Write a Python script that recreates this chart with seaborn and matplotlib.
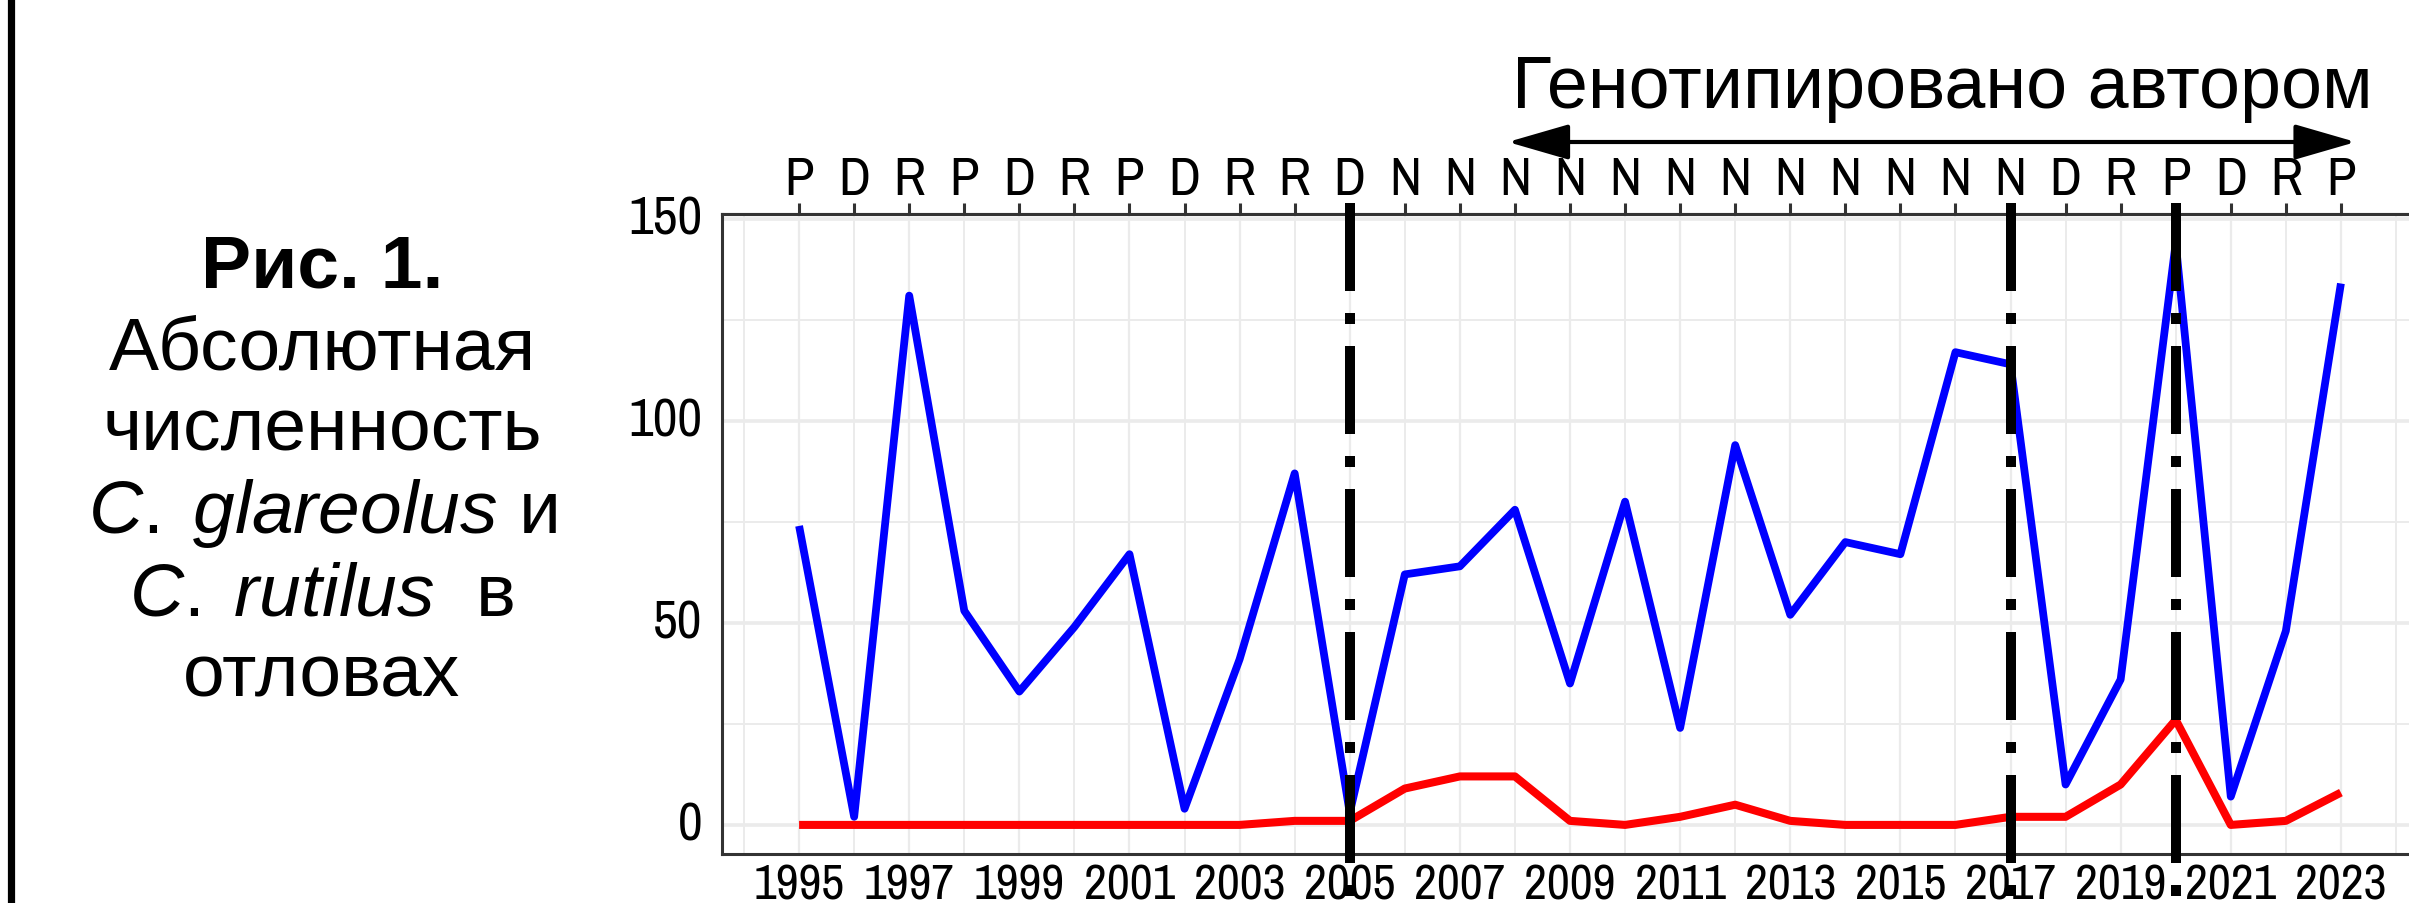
import seaborn as sns
import matplotlib.pyplot as plt
import pandas as pd
from matplotlib.transforms import ScaledTranslation

# data
years = list(range(1995, 2024))
glareolus = [74, 2, 131, 53, 33, 49, 67, 4, 41, 87, 3, 62, 64, 78, 35, 80, 24, 94,
             52, 70, 67, 117, 114, 10, 36, 144, 7, 48, 134]
rutilus = [0, 0, 0, 0, 0, 0, 0, 0, 0, 1, 1, 9, 12, 12, 1, 0, 2, 5, 1, 0, 0, 0, 2,
           2, 10, 26, 0, 1, 8]
phase = list('PDRPDRPDRRDNNNNNNNNNNNNDRPDRP')
break_years = [2005, 2017, 2020]
y_major = [0, 50, 100, 150]
y_minor = [25, 75, 125]
genotyped_span = (2007.87, 2023.27)
title = 'Генотипировано автором'
caption = ['Рис. 1.', 'Абсолютная', 'численность',
           r'$\mathit{C.\;glareolus}$ и', r'$\mathit{C.\;rutilus}$  в', 'отловах']

df = pd.DataFrame({'year': years, 'glareolus': glareolus, 'rutilus': rutilus})

sns.set_style('white')
plt.rcParams['font.family'] = ['Liberation Sans', 'DejaVu Sans']
plt.rcParams['text.color'] = 'black'
plt.rcParams['mathtext.fontset'] = 'custom'
plt.rcParams['mathtext.it'] = 'Liberation Sans:italic'
plt.rcParams['mathtext.rm'] = 'Liberation Sans'
wide = ['Liberation Sans', 'DejaVu Sans']
narrow = ['Liberation Sans Narrow', 'Archivo Narrow', 'PT Sans Narrow',
          'Roboto Condensed', 'Liberation Sans']
tick_size = 39
axc = '#333333'

W, H = 2409, 904
fig = plt.figure(figsize=(W / 100, H / 100), dpi=100)
ax = fig.add_axes([722 / W, 1 - 855 / H, (2418 - 722) / W, (855 - 215) / H])

sns.lineplot(data=df, x='year', y='glareolus', color='#0000FF', linewidth=5.6, ax=ax,
             solid_joinstyle='round', solid_capstyle='butt', zorder=3)
sns.lineplot(data=df, x='year', y='rutilus', color='#FF0000', linewidth=5.8, ax=ax,
             solid_joinstyle='round', solid_capstyle='butt', zorder=3)

# ggplot-like expansion
x0, x1 = min(years), max(years)
ax.set_xlim(x0 - 0.05 * (x1 - x0), x1 + 0.05 * (x1 - x0))
ylo = min(rutilus + glareolus)
yhi = max(rutilus + glareolus)
ax.set_ylim(ylo - 0.05 * (yhi - ylo), yhi + 0.05 * (yhi - ylo))

ax.set_xticks([y for y in years if y % 2 == 1])
ax.set_xticks(list(range(1994, 2025, 2)), minor=True)
ax.set_yticks(y_major)
ax.set_yticks(y_minor, minor=True)
ax.set_xlabel('')
ax.set_ylabel('')

ax.set_axisbelow(True)
ax.xaxis.grid(True, which='major', color='#EBEBEB', lw=1.6)
ax.xaxis.grid(True, which='minor', color='#EBEBEB', lw=1.4)
ax.yaxis.grid(True, which='major', color='#EBEBEB', lw=2.6)
ax.yaxis.grid(True, which='minor', color='#EBEBEB', lw=1.4)

ax.tick_params(which='major', length=8, width=2.2, color=axc, labelcolor='black')
ax.tick_params(which='minor', length=0)
ax.tick_params(axis='x', pad=-2)
ax.tick_params(axis='y', pad=6)
for s in ['left', 'bottom', 'top']:
    ax.spines[s].set_color(axc)
    ax.spines[s].set_linewidth(2.2)
ax.spines['right'].set_visible(False)

# phase letters on top
sec = ax.secondary_xaxis('top')
sec.set_xticks(years, labels=phase)
sec.tick_params(length=8, width=2.2, color=axc, labelcolor='black', pad=0)
sec.spines['top'].set_color(axc)
sec.spines['top'].set_linewidth(2.2)

for lab in ax.get_yticklabels() + sec.get_xticklabels():
    lab.set_family(narrow)
    lab.set_fontsize(tick_size)
# years sit right at the bottom edge, so a touch smaller there
for lab in ax.get_xticklabels():
    lab.set_family(narrow)
    lab.set_fontsize(tick_size - 3)
for lab in ax.get_yticklabels():
    lab.set_transform(lab.get_transform() + ScaledTranslation(0, 5 / 100, fig.dpi_scale_trans))

# dash-dot markers, drawn from above the panel down to the figure bottom
top_ax = (H - 204 - (H - 855)) / (855 - 215)
bot_ax = -(H - 855) / (855 - 215)
for yr in break_years:
    ax.plot([yr, yr], [top_ax, bot_ax], transform=ax.get_xaxis_transform(),
            color='black', lw=7.2, linestyle=(0, (8.8, 2.2, 1.1, 2.2)),
            dash_capstyle='butt', clip_on=False, zorder=5)

# genotyped period arrow and title
arrow_y = 1 - 143 / H
ax.annotate('', xy=(genotyped_span[0], arrow_y), xytext=(genotyped_span[1], arrow_y),
            xycoords=('data', 'figure fraction'), textcoords=('data', 'figure fraction'),
            arrowprops=dict(arrowstyle='<|-|>,head_length=3.8,head_width=1.1',
                            mutation_scale=10, lw=3, color='black',
                            shrinkA=0, shrinkB=0),
            annotation_clip=False)
fig.text(1942 / W, 1 - 108 / H, title, ha='center', va='baseline', fontsize=53,
         family=wide, color='black')

# caption on the left
for i, line in enumerate(caption):
    fig.text(322 / W, 1 - (287 + 82 * i) / H, line, ha='center', va='baseline',
             fontsize=54, family=wide, color='black',
             fontweight='bold' if i == 0 else 'normal')

fig.add_artist(plt.Line2D([10.5 / W, 10.5 / W], [0, 1], transform=fig.transFigure,
                          color='black', lw=5.2))

fig.savefig('out.png', dpi=100)
